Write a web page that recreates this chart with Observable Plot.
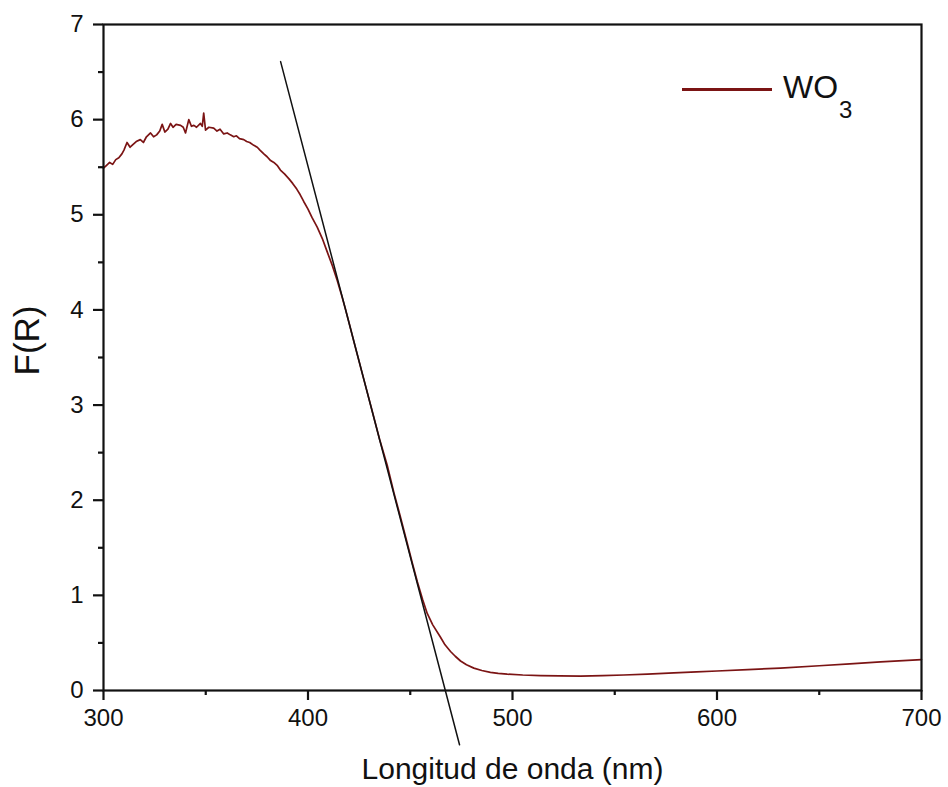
<!DOCTYPE html>
<html>
<head>
<meta charset="utf-8">
<script src="https://cdn.jsdelivr.net/npm/d3@7"></script>
<script src="https://cdn.jsdelivr.net/npm/@observablehq/plot@0.6"></script>
<style>
  body { margin: 0; background: #fff; font-family: "Liberation Sans", Arial, sans-serif; }
  #wrap { position: relative; width: 948px; height: 787px; }
  #legend-line { position: absolute; left: 682px; top: 88px; width: 90px; height: 2.5px; background: #7b1414; }
  #legend-text { position: absolute; left: 783px; top: 71px; font-size: 32px; line-height: 32px; color: #111; white-space: nowrap; }
  #legend-text sub { font-size: 24px; vertical-align: -20px; line-height: 0; margin-left: 1px; }
</style>
</head>
<body>
<div id="wrap">
  <div id="chart"></div>
  <div id="legend-line"></div>
  <div id="legend-text">WO<sub>3</sub></div>
</div>
<script>
// Measured diffuse reflectance (Kubelka-Munk) of WO3
const wavelength = [
  300, 301.5, 303, 304.5, 306, 307.5, 309, 310, 311.5, 313, 314.5, 316, 318, 319.5, 321, 323, 324.5, 326,
  327.5, 328.7, 330, 331.5, 332.8, 334, 335.5, 337.7, 339, 340.1, 341.7, 343, 344.2, 345.5, 347.4, 348.3,
  349, 349.9, 351.5, 353.9, 355.5, 357, 358.8, 360.5, 362, 363.7, 365, 366.5, 368.6, 370, 371.5, 373.5,
  375.2, 376.5, 378.4, 380, 381.7, 383.3, 384.9, 386.5, 388.5, 390.6, 392.5, 394.5, 396.2, 397.9, 400,
  402, 404.5, 407, 409.4, 412, 414.3, 416.5, 418.3, 420, 423, 427.3, 431, 435, 438.7, 442, 445, 448.5,
  451, 453.5, 456, 458.3, 461, 464.8, 467, 469.7, 472, 474.6, 477.5, 481.1, 485, 489.2, 493, 497.4, 505,
  513.7, 523, 533.3, 544, 554.4, 566, 578.9, 590, 600, 615, 631, 650, 665, 680, 700
];
const fr = [
  5.49, 5.52, 5.55, 5.53, 5.58, 5.60, 5.64, 5.68, 5.76, 5.71, 5.74, 5.77, 5.79, 5.76, 5.82, 5.86, 5.82, 5.84,
  5.88, 5.95, 5.87, 5.90, 5.96, 5.92, 5.95, 5.94, 5.92, 5.86, 6.00, 5.93, 5.94, 5.92, 5.96, 5.93,
  6.07, 5.89, 5.92, 5.91, 5.88, 5.90, 5.85, 5.86, 5.84, 5.82, 5.83, 5.80, 5.79, 5.77, 5.76, 5.73,
  5.71, 5.68, 5.64, 5.61, 5.57, 5.55, 5.52, 5.47, 5.43, 5.38, 5.33, 5.27, 5.21, 5.14, 5.06,
  4.97, 4.87, 4.75, 4.61, 4.46, 4.31, 4.15, 4.01, 3.87, 3.62, 3.27, 2.97, 2.64, 2.37, 2.08, 1.84, 1.55,
  1.34, 1.14, 0.96, 0.81, 0.69, 0.56, 0.48, 0.41, 0.36, 0.31, 0.27, 0.235, 0.21, 0.19, 0.18, 0.172, 0.163,
  0.157, 0.153, 0.152, 0.156, 0.163, 0.172, 0.185, 0.196, 0.205, 0.22, 0.235, 0.26, 0.28, 0.30, 0.325
];
// Tangent line used to estimate the absorption edge
const tangentX = [386.6, 474.1];
const tangentY = [6.61, -0.57];

const xTicks = [300, 400, 500, 600, 700];
const xMinor = [350, 450, 550, 650];
const yTicks = [0, 1, 2, 3, 4, 5, 6, 7];
const yMinor = [0.5, 1.5, 2.5, 3.5, 4.5, 5.5, 6.5];
const xLabel = "Longitud de onda (nm)";
const yLabel = "F(R)";

const spectrum = wavelength.map((w, i) => ({ w, f: fr[i] }));
const tangent = tangentX.map((w, i) => ({ w, f: tangentY[i] }));

const chart = Plot.plot({
  width: 948,
  height: 787,
  marginLeft: 103,
  marginRight: 27,
  marginTop: 24,
  marginBottom: 97,
  style: { fontFamily: "'Liberation Sans', Arial, sans-serif", background: "white", color: "#111", overflow: "visible" },
  x: { domain: [300, 700] },
  y: { domain: [0, 7] },
  marks: [
    Plot.line(spectrum, { x: "w", y: "f", stroke: "#7b1414", strokeWidth: 1.7 }),
    Plot.line(tangent, { x: "w", y: "f", stroke: "#111", strokeWidth: 1.5 }),
    Plot.frame({ stroke: "#111", strokeWidth: 2.2 }),
    Plot.axisX({ ticks: xTicks, tickSize: 10, tickPadding: 8, fontSize: 24, strokeWidth: 2.2, label: null, tickFormat: d => String(d) }),
    Plot.axisX({ ticks: xMinor, tickSize: 5, strokeWidth: 2.2, label: null, tickFormat: () => "" }),
    Plot.axisY({ ticks: yTicks, tickSize: 10, tickPadding: 10, fontSize: 24, strokeWidth: 2.2, label: null, tickFormat: d => String(d) }),
    Plot.axisY({ ticks: yMinor, tickSize: 5, strokeWidth: 2.2, label: null, tickFormat: () => "" }),
    Plot.text([xLabel], { frameAnchor: "bottom", dy: 88, fontSize: 30, fill: "#111" }),
    Plot.text([yLabel], { frameAnchor: "left", dx: -76, dy: 18, rotate: -90, fontSize: 35, fill: "#111" })
  ]
});
document.getElementById("chart").appendChild(chart);
</script>
</body>
</html>
